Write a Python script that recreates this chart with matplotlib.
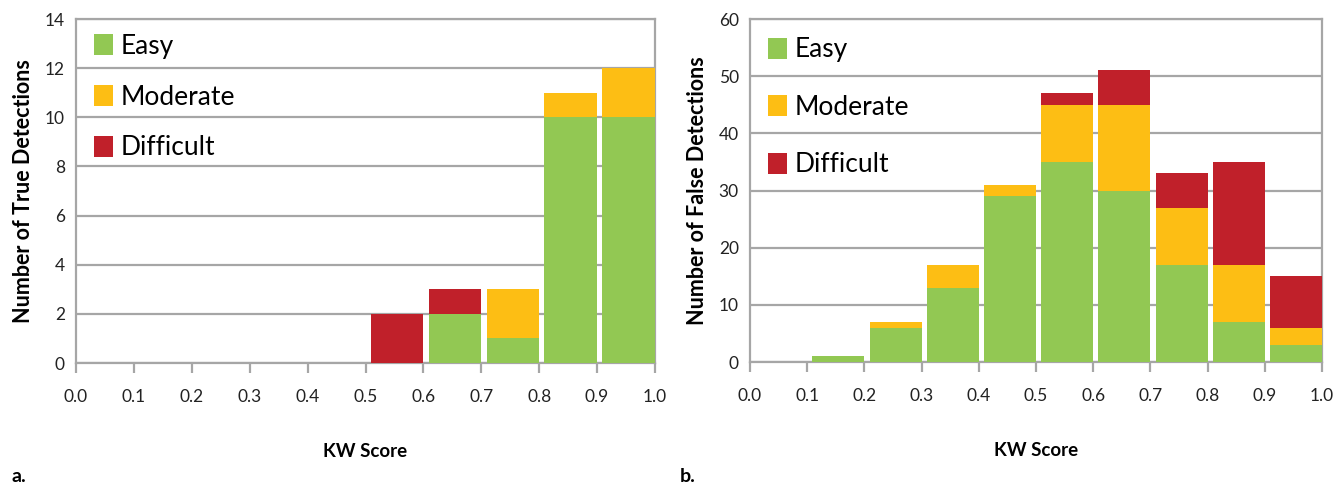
import matplotlib
matplotlib.use("Agg")
import matplotlib.pyplot as plt
import numpy as np

plt.rcParams['font.family'] = ['Lato', 'DejaVu Sans']

bins = [0.0, 0.1, 0.2, 0.3, 0.4, 0.5, 0.6, 0.7, 0.8, 0.9]
x_ticks = [0.0, 0.1, 0.2, 0.3, 0.4, 0.5, 0.6, 0.7, 0.8, 0.9, 1.0]
x_ticklabels = ["0.0", "0.1", "0.2", "0.3", "0.4", "0.5", "0.6", "0.7", "0.8", "0.9", "1.0"]

true_easy = [0, 0, 0, 0, 0, 0, 2, 1, 10, 10]
true_moderate = [0, 0, 0, 0, 0, 0, 0, 2, 1, 2]
true_difficult = [0, 0, 0, 0, 0, 2, 1, 0, 0, 0]

false_easy = [0, 1, 6, 13, 29, 35, 30, 17, 7, 3]
false_moderate = [0, 0, 1, 4, 2, 10, 15, 10, 10, 3]
false_difficult = [0, 0, 0, 0, 0, 2, 6, 6, 18, 9]

labels = ["Easy", "Moderate", "Difficult"]
colors = ["#92C853", "#FDBE14", "#C0202A"]

fig = plt.figure(figsize=(13.37, 4.86), dpi=100)
ax1 = fig.add_axes([76/1337, 123/486, 579/1337, 344/486])
ax2 = fig.add_axes([750/1337, 124/486, 572/1337, 343/486])

grid_c = "#A6A6A6"

def draw(ax, easy, mod, diff, ymax, ystep, ylabel, labelspacing, anchor_y):
    e = np.array(easy); m = np.array(mod); d = np.array(diff)
    left = np.array(bins) + 0.009
    w = 0.091
    ax.bar(left, e, width=w, align='edge', color=colors[0], zorder=3, label=labels[0])
    ax.bar(left, m, width=w, bottom=e, align='edge', color=colors[1], zorder=3, label=labels[1])
    ax.bar(left, d, width=w, bottom=e + m, align='edge', color=colors[2], zorder=3, label=labels[2])
    ax.set_xlim(0, 1.0)
    ax.set_ylim(0, ymax)
    ax.set_yticks(np.arange(0, ymax + 0.1, ystep))
    ax.set_xticks(x_ticks)
    ax.set_xticklabels(x_ticklabels)
    ax.yaxis.grid(True, color=grid_c, linewidth=1.6, zorder=0)
    ax.set_axisbelow(True)
    for s in ax.spines.values():
        s.set_color(grid_c)
        s.set_linewidth(1.6)
    ax.tick_params(axis='y', length=0, labelsize=12.5, pad=8, labelcolor='#222222')
    ax.tick_params(axis='x', length=7, width=1.6, color=grid_c, direction='out',
                   labelsize=12.5, pad=12, labelcolor='#222222')
    ax.set_xlabel("KW Score", fontsize=13.5, fontweight='bold', labelpad=27)
    ax.set_ylabel(ylabel, fontsize=15.5, fontweight='bold', labelpad=8)
    ax.legend(loc='upper left', bbox_to_anchor=(0.0, anchor_y), frameon=False,
              fontsize=19, handlelength=0.7, handleheight=0.85, handletextpad=0.3,
              labelspacing=labelspacing, borderaxespad=0.3)

draw(ax1, true_easy, true_moderate, true_difficult, 14, 2, "Number of True Detections", 0.97, 1.01)
draw(ax2, false_easy, false_moderate, false_difficult, 60, 10, "Number of False Detections", 1.23, 1.0)

fig.text(12/1337, 1 - 476/486, "a.", fontsize=14, fontweight='bold', va='center', ha='left')
fig.text(680/1337, 1 - 476/486, "b.", fontsize=14, fontweight='bold', va='center', ha='left')

fig.savefig("out.png", dpi=100)
